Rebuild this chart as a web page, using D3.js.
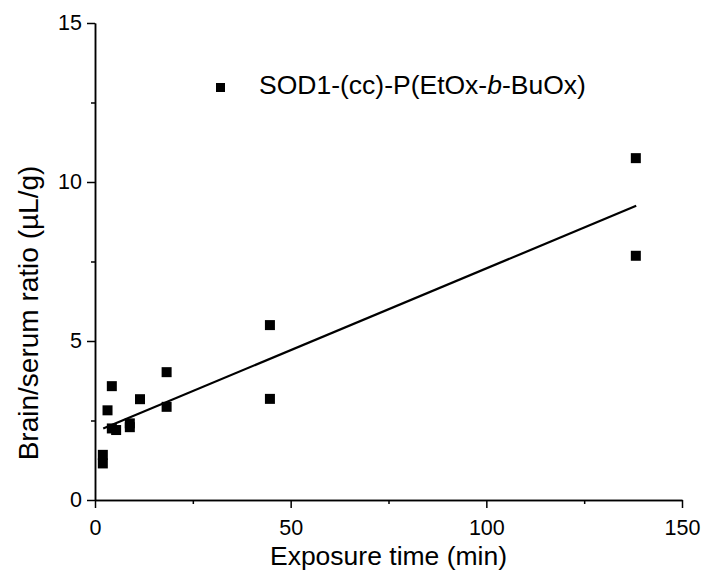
<!DOCTYPE html>
<html>
<head>
<meta charset="utf-8">
<script src="https://cdn.jsdelivr.net/npm/d3@7"></script>
<style>
  html, body { margin: 0; padding: 0; background: #fff; }
  svg { display: block; }
  text { font-family: "Liberation Sans", Arial, sans-serif; fill: #000; }
</style>
</head>
<body>
<svg id="chart" width="709" height="578"></svg>
<script>
// Data
const seriesName = "SOD1-(cc)-P(EtOx-b-BuOx)";
const exposureTime = [2.0, 2.0, 3.2, 4.3, 4.3, 5.4, 8.9, 8.9, 11.5, 18.3, 18.3, 44.7, 44.7, 138.2, 138.2];
const brainSerumRatio = [1.42, 1.15, 2.82, 3.58, 2.25, 2.2, 2.41, 2.29, 3.17, 4.02, 2.93, 5.5, 3.18, 10.75, 7.68];
const fitTime = [2.1, 138.3];
const fitRatio = [2.25, 9.25];
const xMajorTicks = [0, 50, 100, 150];
const xMinorTicks = [25, 75, 125];
const yMajorTicks = [0, 5, 10, 15];
const yMinorTicks = [2.5, 7.5, 12.5];

const svg = d3.select("#chart");
const x = d3.scaleLinear().domain([0, 150]).range([95, 682]);
const y = d3.scaleLinear().domain([0, 15]).range([500, 23]);

function styleAxis(g) {
  g.select(".domain").attr("stroke", "#000").attr("stroke-width", 1.5);
  g.selectAll(".tick line").attr("stroke", "#000").attr("stroke-width", 1.5);
  g.selectAll(".tick text").style("font-family", "Liberation Sans, Arial, sans-serif").style("font-size", "21.5px").attr("fill", "#000");
}

// X axis
const gx = svg.append("g").attr("transform", `translate(0,${y(0)})`)
  .call(d3.axisBottom(x).tickValues(xMajorTicks).tickSize(8).tickSizeOuter(0).tickPadding(12).tickFormat(d3.format("d")));
styleAxis(gx);
const gxm = svg.append("g").attr("transform", `translate(0,${y(0)})`)
  .call(d3.axisBottom(x).tickValues(xMinorTicks).tickSize(4).tickSizeOuter(0).tickFormat(""));
styleAxis(gxm);

// Y axis
const gy = svg.append("g").attr("transform", `translate(${x(0)},0)`)
  .call(d3.axisLeft(y).tickValues(yMajorTicks).tickSize(8).tickSizeOuter(0).tickPadding(5).tickFormat(d3.format("d")));
styleAxis(gy);
const gym = svg.append("g").attr("transform", `translate(${x(0)},0)`)
  .call(d3.axisLeft(y).tickValues(yMinorTicks).tickSize(4).tickSizeOuter(0).tickFormat(""));
styleAxis(gym);

// Axis titles
svg.append("text")
  .attr("x", (x.range()[0] + x.range()[1]) / 2)
  .attr("y", 565)
  .attr("text-anchor", "middle")
  .style("font-size", "26.5px")
  .text("Exposure time (min)");

svg.append("text")
  .attr("transform", `translate(38,313) rotate(-90)`)
  .attr("text-anchor", "middle")
  .style("font-size", "28px")
  .text("Brain/serum ratio (\u00b5L/g)");

// Fit line
const line = d3.line().x(d => x(d[0])).y(d => y(d[1]));
svg.append("path")
  .datum(fitTime.map((t, i) => [t, fitRatio[i]]))
  .attr("d", line)
  .attr("fill", "none")
  .attr("stroke", "#000")
  .attr("stroke-width", 2.2);

// Points
const ms = 10;
svg.append("g").selectAll("rect")
  .data(exposureTime.map((t, i) => [t, brainSerumRatio[i]]))
  .join("rect")
  .attr("x", d => x(d[0]) - ms / 2)
  .attr("y", d => y(d[1]) - ms / 2)
  .attr("width", ms)
  .attr("height", ms)
  .attr("fill", "#000");

// Legend
svg.append("rect")
  .attr("x", 216).attr("y", 83).attr("width", 9).attr("height", 9).attr("fill", "#000");
const lt = svg.append("text").attr("x", 259).attr("y", 94).style("font-size", "26.5px");
lt.append("tspan").text("SOD1-(cc)-P(EtOx-");
lt.append("tspan").style("font-style", "italic").text("b");
lt.append("tspan").text("-BuOx)");
</script>
</body>
</html>
